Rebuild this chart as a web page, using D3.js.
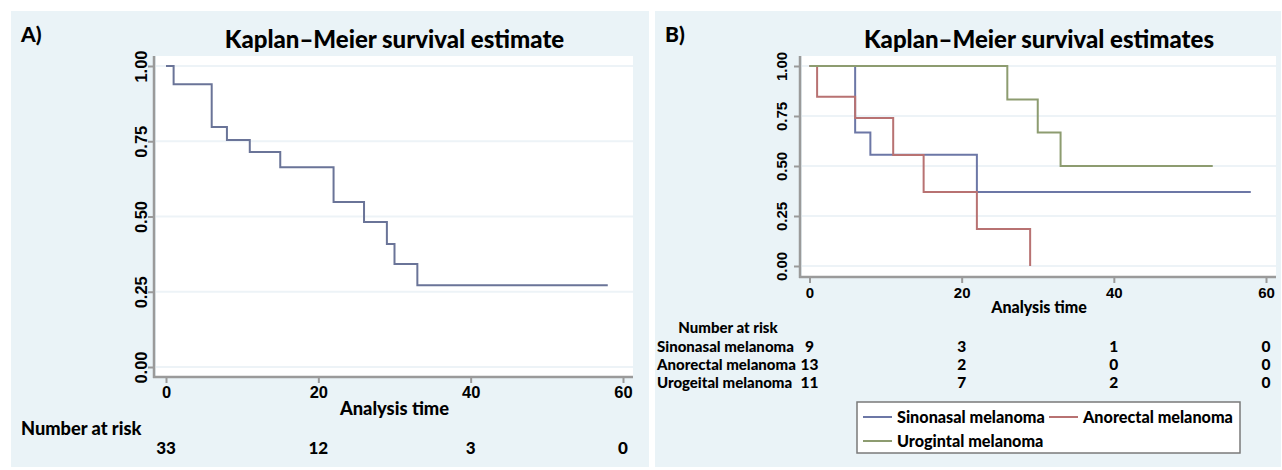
<!DOCTYPE html>
<html>
<head>
<meta charset="utf-8">
<script src="https://cdn.jsdelivr.net/npm/d3@7.9.0/dist/d3.min.js"></script>
<style>
  html, body { margin: 0; padding: 0; background: #fff; }
  svg { display: block; font-family: Lato, "Open Sans", sans-serif; font-weight: 900; }
</style>
</head>
<body>
<svg id="chart" width="1282" height="470"></svg>
<script>
// --- data ---
const yTicks = [0, 0.25, 0.5, 0.75, 1];
const xTicks = [0, 20, 40, 60];

// panel A: all patients
const timesA = [0, 1, 6, 8, 11, 15, 22, 26, 29, 30, 33, 58];
const survA  = [1, 0.939, 0.797, 0.754, 0.714, 0.664, 0.548, 0.482, 0.409, 0.342, 0.272, 0.272];
const riskA  = [33, 12, 3, 0];

// panel B: by site
const groupNames  = ['Sinonasal melanoma', 'Anorectal melanoma', 'Urogintal melanoma'];
const riskLabels  = ['Sinonasal melanoma', 'Anorectal melanoma', 'Urogeital melanoma'];
const groupColors = ['#6c77a6', '#b87272', '#8d9c70'];
const sinoT = [0, 6, 8, 22, 58];
const sinoS = [1, 0.667, 0.556, 0.37, 0.37];
const anoT  = [0, 1, 6, 11, 15, 22, 29];
const anoS  = [1, 0.846, 0.74, 0.555, 0.37, 0.185, 0];
const uroT  = [0, 26, 30, 33, 53];
const uroS  = [1, 0.833, 0.667, 0.5, 0.5];
const riskB = [[9, 3, 1, 0], [13, 2, 0, 0], [11, 7, 2, 0]];

const svg = d3.select('#chart');
const BG = '#eaf3f7';
const AXIS = '#9a9a9a';

// one Stata-style panel frame, returns scales
function drawPanel(o) {
  const g = svg.append('g');
  g.append('rect').attr('x', o.bx0).attr('y', 11).attr('width', o.bx1 - o.bx0).attr('height', 456).attr('fill', BG);
  g.append('text').attr('x', o.bx0 + 10).attr('y', 42).attr('font-size', 21).text(o.tag);

  const x = d3.scaleLinear().domain([0, 60]).range([o.x0, o.x60]);
  const y = d3.scaleLinear().domain([0, 1]).range([o.y0, o.y1]);

  // plot region
  g.append('rect').attr('x', o.px0).attr('y', 56).attr('width', o.px1 - o.px0).attr('height', o.axisY - 56).attr('fill', '#fff');
  // grid
  g.append('g').selectAll('line').data(yTicks).join('line')
    .attr('x1', o.px0).attr('x2', o.px1)
    .attr('y1', d => y(d)).attr('y2', d => y(d))
    .attr('stroke', '#edf3f7').attr('stroke-width', 2);

  // axes via d3-axis
  const ax = g.append('g').attr('transform', `translate(0,${o.axisY})`)
    .call(d3.axisBottom(x).tickValues(xTicks).tickSize(6).tickPadding(o.xPad).tickFormat(d3.format('d')));
  ax.select('.domain').remove();
  ax.selectAll('line').attr('stroke', AXIS).attr('stroke-width', 2);
  ax.selectAll('text').attr('font-size', o.tickFs).attr('fill', '#000').attr('font-family', null);
  g.append('line').attr('x1', o.axisX - 1).attr('x2', o.px1).attr('y1', o.axisY).attr('y2', o.axisY)
    .attr('stroke', AXIS).attr('stroke-width', 2.5);

  const ay = g.append('g').attr('transform', `translate(${o.axisX},0)`)
    .call(d3.axisLeft(y).tickValues(yTicks).tickSize(6).tickFormat(d3.format('.2f')));
  ay.select('.domain').remove();
  ay.selectAll('line').attr('stroke', AXIS).attr('stroke-width', 2);
  ay.selectAll('text')
    .attr('font-size', o.tickFs).attr('fill', '#000').attr('font-family', null)
    .attr('x', null).attr('dy', null)
    .attr('text-anchor', 'middle')
    .attr('transform', `translate(${-o.labOff},0) rotate(-90)`);
  g.append('line').attr('x1', o.axisX).attr('x2', o.axisX).attr('y1', 56).attr('y2', o.axisY + 1)
    .attr('stroke', AXIS).attr('stroke-width', 2.5);

  g.append('text').attr('x', (o.px0 + o.px1) / 2).attr('y', 48).attr('text-anchor', 'middle')
    .attr('font-size', 24).text(o.title);
  g.append('text').attr('x', (o.px0 + o.px1) / 2).attr('y', o.xlabY).attr('text-anchor', 'middle')
    .attr('font-size', o.xlabFs).text('Analysis time');
  return { g, x, y };
}

const line = (x, y) => d3.line().x(d => x(d[0])).y(d => y(d[1])).curve(d3.curveStepAfter);

// ---- panel A ----
const A = drawPanel({ tag: 'A)', bx0: 11, bx1: 649, x0: 166, x60: 623, y0: 367, y1: 66,
  px0: 156, px1: 633, axisX: 154, axisY: 377, labOff: 7, xlabY: 415, tickFs: 16.5, xPad: 3, xlabFs: 18.3,
  title: 'Kaplan–Meier survival estimate' });
A.g.append('path').attr('d', line(A.x, A.y)(d3.zip(timesA, survA)))
  .attr('fill', 'none').attr('stroke', '#6a7498').attr('stroke-width', 2);
A.g.append('text').attr('x', 21).attr('y', 435).attr('font-size', 18.2).text('Number at risk');
A.g.append('g').selectAll('text').data(riskA).join('text')
  .attr('x', (d, i) => A.x(xTicks[i])).attr('y', 454).attr('text-anchor', 'middle')
  .attr('font-size', 17).text(d => d);

// ---- panel B ----
const B = drawPanel({ tag: 'B)', bx0: 655, bx1: 1281, x0: 809.5, x60: 1266, y0: 266, y1: 66,
  px0: 802, px1: 1276, axisX: 800, axisY: 277, labOff: 13, xlabY: 313, tickFs: 15, xPad: 4.5, xlabFs: 16,
  title: 'Kaplan–Meier survival estimates' });
const curvesB = [d3.zip(sinoT, sinoS), d3.zip(anoT, anoS), d3.zip(uroT, uroS)];
B.g.append('g').selectAll('path').data(curvesB).join('path')
  .attr('d', line(B.x, B.y)).attr('fill', 'none')
  .attr('stroke', (d, i) => groupColors[i]).attr('stroke-width', 2);

B.g.append('text').attr('x', 728).attr('y', 333).attr('text-anchor', 'middle').attr('font-size', 15).text('Number at risk');
riskB.forEach((row, r) => {
  const yy = 352 + r * 18;
  B.g.append('text').attr('x', 657).attr('y', yy).attr('font-size', 15).text(riskLabels[r]);
  B.g.append('g').selectAll('text').data(row).join('text')
    .attr('x', (d, i) => B.x(xTicks[i])).attr('y', yy).attr('text-anchor', 'middle')
    .attr('font-size', 15.5).text(d => d);
});

// legend
const lg = B.g.append('g');
lg.append('rect').attr('x', 857).attr('y', 402).attr('width', 383).attr('height', 51)
  .attr('fill', '#fff').attr('stroke', '#7a7a7a').attr('stroke-width', 1.5);
const legPos = [[863, 417], [1049, 417], [863, 441]];
groupNames.forEach((name, i) => {
  const [lx, ly] = legPos[i];
  lg.append('line').attr('x1', lx).attr('x2', lx + 29).attr('y1', ly).attr('y2', ly)
    .attr('stroke', groupColors[i]).attr('stroke-width', 2);
  lg.append('text').attr('x', lx + 34).attr('y', ly + 6).attr('font-size', 16.2).text(name);
});
</script>
</body>
</html>
